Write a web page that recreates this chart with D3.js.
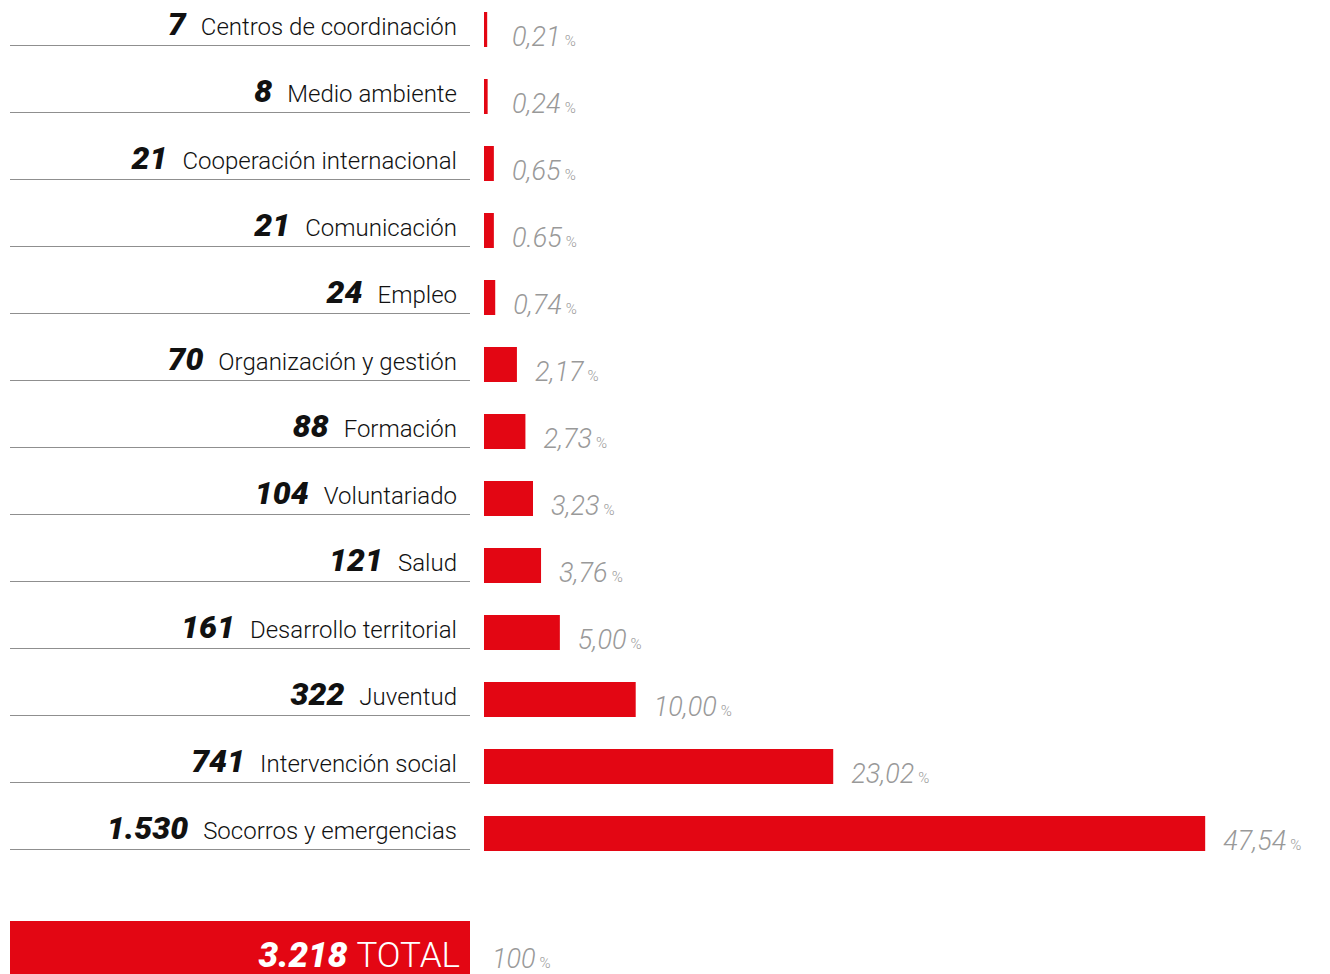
<!DOCTYPE html>
<html>
<head>
<meta charset="utf-8">
<script src="https://cdn.jsdelivr.net/npm/d3@7"></script>
<style>
  body { margin: 0; background: #fff; }
  svg { display: block; font-family: Roboto, "Noto Sans", sans-serif; }
</style>
</head>
<body>
<div id="chart"></div>
<script>
// data
var categories = [ "Centros de coordinación", "Medio ambiente", "Cooperación internacional",
	"Comunicación", "Empleo", "Organización y gestión", "Formación", "Voluntariado", "Salud",
	"Desarrollo territorial", "Juventud", "Intervención social", "Socorros y emergencias" ];
var counts = [ "7", "8", "21", "21", "24", "70", "88", "104", "121", "161", "322", "741", "1.530" ];
var percents = [ 0.21, 0.24, 0.65, 0.65, 0.74, 2.17, 2.73, 3.23, 3.76, 5.00, 10.00, 23.02, 47.54 ];
var percentLabels = [ "0,21", "0,24", "0,65", "0.65", "0,74", "2,17", "2,73", "3,23", "3,76",
	"5,00", "10,00", "23,02", "47,54" ];
var total = { count: "3.218", label: "TOTAL", percent: "100" };

var width = 1330, height = 974;
var red = "#e30613", grey = "#999999";

var rows = categories.map( function ( c, i ) {
	return { name: c, count: counts[ i ], pct: percents[ i ], pctLabel: percentLabels[ i ] };
} );

var x = d3.scaleLinear()
	.domain( [ 0, 100 ] )
	.range( [ 0, 1517 ] );

var y = d3.scaleBand()
	.domain( categories )
	.range( [ 12, 851 ] )
	.paddingInner( 32 / 67 )
	.paddingOuter( 0 );

var barX = 484;

var svg = d3.select( "#chart" ).append( "svg" )
	.attr( "width", width )
	.attr( "height", height )
	.attr( "viewBox", [ 0, 0, width, height ] );

var row = svg.append( "g" )
	.selectAll( "g" )
	.data( rows )
	.join( "g" )
	.attr( "transform", d => `translate(0, ${ y( d.name ) })` );

// underline under each label
row.append( "line" )
	.attr( "x1", 10 )
	.attr( "x2", 470 )
	.attr( "y1", y.bandwidth() - 1.5 )
	.attr( "y2", y.bandwidth() - 1.5 )
	.attr( "stroke", "#8f8f8f" )
	.attr( "stroke-width", 1 );

var label = row.append( "text" )
	.attr( "x", 457 )
	.attr( "y", 23 )
	.attr( "text-anchor", "end" )
	.attr( "fill", "#111" );

label.append( "tspan" )
	.attr( "font-size", "32px" )
	.attr( "font-weight", 900 )
	.attr( "font-style", "italic" )
	.text( d => d.count );

label.append( "tspan" )
	.attr( "dx", 15 )
	.attr( "font-size", "24px" )
	.attr( "font-weight", 300 )
	.text( d => d.name );

row.append( "rect" )
	.attr( "x", barX )
	.attr( "y", 0 )
	.attr( "width", d => x( d.pct ) )
	.attr( "height", y.bandwidth() )
	.attr( "fill", red );

var pct = row.append( "text" )
	.attr( "x", d => barX + Math.max( x( d.pct ), 10 ) + 18 )
	.attr( "y", 34 )
	.attr( "fill", grey )
	.attr( "font-weight", 300 )
	.attr( "font-style", "italic" );

pct.append( "tspan" )
	.attr( "font-size", "27px" )
	.text( d => d.pctLabel );

pct.append( "tspan" )
	.attr( "dx", 4 )
	.attr( "font-size", "15px" )
	.attr( "font-style", "normal" )
	.text( "%" );

// total block
var totalY = 921;
svg.append( "rect" )
	.attr( "x", 10 )
	.attr( "y", totalY )
	.attr( "width", 460 )
	.attr( "height", height - totalY + 10 )
	.attr( "fill", red );

var totalText = svg.append( "text" )
	.attr( "x", 460 )
	.attr( "y", 967 )
	.attr( "text-anchor", "end" )
	.attr( "fill", "#fff" );

totalText.append( "tspan" )
	.attr( "font-size", "35px" )
	.attr( "font-weight", 900 )
	.attr( "font-style", "italic" )
	.text( total.count );

totalText.append( "tspan" )
	.attr( "dx", 9 )
	.attr( "font-size", "35px" )
	.attr( "font-weight", 300 )
	.text( total.label );

var totalPct = svg.append( "text" )
	.attr( "x", 492 )
	.attr( "y", 968 )
	.attr( "fill", grey )
	.attr( "font-weight", 300 )
	.attr( "font-style", "italic" );

totalPct.append( "tspan" )
	.attr( "font-size", "27px" )
	.text( total.percent );

totalPct.append( "tspan" )
	.attr( "dx", 4 )
	.attr( "font-size", "15px" )
	.attr( "font-style", "normal" )
	.text( "%" );
</script>
</body>
</html>
